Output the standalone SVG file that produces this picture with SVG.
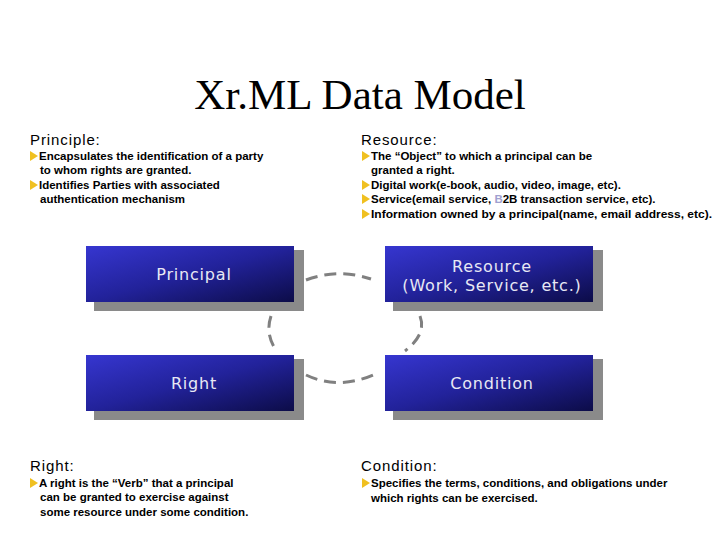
<svg xmlns="http://www.w3.org/2000/svg" width="720" height="540" viewBox="0 0 720 540">
<defs>
<linearGradient id="g" x1="0" y1="0" x2="1" y2="1">
<stop offset="0" stop-color="#3636d0"/><stop offset="0.5" stop-color="#22229a"/><stop offset="1" stop-color="#0c0c48"/>
</linearGradient>
<style>
.h{font-family:"Liberation Sans",Arial,sans-serif;font-size:15px;letter-spacing:0.9px;fill:#000}
.t{font-family:"Liberation Sans",Arial,sans-serif;font-size:11.5px;font-weight:bold;fill:#000}
.b{fill:#f0c020}
.sh{fill:#8a8a8a}
.bx{fill:url(#g)}
.l{font-family:"DejaVu Sans",Verdana,sans-serif;font-size:16px;letter-spacing:0.8px;fill:#e8e8f4;text-anchor:middle}
.c{fill:none;stroke:#808080;stroke-width:3;stroke-dasharray:12 7}
</style>
</defs>
<rect width="720" height="540" fill="#fff"/>
<text x="360" y="109" text-anchor="middle" font-family="Liberation Serif,serif" font-size="43">Xr.ML Data Model</text>
<text class="h" x="30" y="145">Principle:</text>
<path class="b" d="M30 151l8 5-8 5z"/><text class="t" x="39" y="160">Encapsulates the identification of a party</text>
<text class="t" x="40" y="174">to whom rights are granted.</text>
<path class="b" d="M30 180l8 5-8 5z"/><text class="t" x="39" y="189">Identifies Parties with associated</text>
<text class="t" x="40" y="203">authentication mechanism</text>
<text class="h" x="361" y="145">Resource:</text>
<path class="b" d="M362 151l8 5-8 5z"/><text class="t" x="371" y="160">The “Object” to which a principal can be</text>
<text class="t" x="371" y="174">granted a right.</text>
<path class="b" d="M362 180l8 5-8 5z"/><text class="t" x="371" y="189">Digital work(e-book, audio, video, image, etc).</text>
<path class="b" d="M362 194l8 5-8 5z"/><text class="t" x="371" y="203">Service(email service, <tspan fill="#a0a0d0">B</tspan>2B transaction service, etc).</text>
<path class="b" d="M362 209l8 5-8 5z"/><text class="t" x="371" y="218" textLength="341" lengthAdjust="spacingAndGlyphs">Information owned by a principal(name, email address, etc).</text>
<g id="principal"><rect class="sh" x="94" y="250" width="210" height="61"/><rect class="bx" x="86" y="246" width="208" height="56"/><text class="l" x="194" y="280">Principal</text></g>
<g id="resource"><rect class="sh" x="393" y="250" width="210" height="61"/><rect class="bx" x="385" y="246" width="208" height="56"/><text class="l" x="492" y="272">Resource</text><text class="l" x="492" y="291">(Work, Service, etc.)</text></g>
<g id="right"><rect class="sh" x="94" y="359" width="210" height="61"/><rect class="bx" x="86" y="355" width="208" height="56"/><text class="l" x="194" y="389">Right</text></g>
<g id="condition"><rect class="sh" x="393" y="359" width="210" height="61"/><rect class="bx" x="385" y="355" width="208" height="56"/><text class="l" x="492" y="389">Condition</text></g>
<g id="connectors">
<path class="c" d="M306 280Q338 268 371 279"/>
<path class="c" d="M271 316Q265 334 276 350"/>
<path class="c" d="M420 316Q427 334 405 351"/>
<path class="c" d="M306 375Q338 390 373 375"/>
</g>
<text class="h" x="30" y="471">Right:</text>
<path class="b" d="M30 478l8 5-8 5z"/><text class="t" x="39" y="487">A right is the “Verb” that a principal</text>
<text class="t" x="40" y="501">can be granted to exercise against</text>
<text class="t" x="40" y="516">some resource under some condition.</text>
<text class="h" x="361" y="471">Condition:</text>
<path class="b" d="M362 478l8 5-8 5z"/><text class="t" x="371" y="487">Specifies the terms, conditions, and obligations under</text>
<text class="t" x="371" y="502">which rights can be exercised.</text>
</svg>
